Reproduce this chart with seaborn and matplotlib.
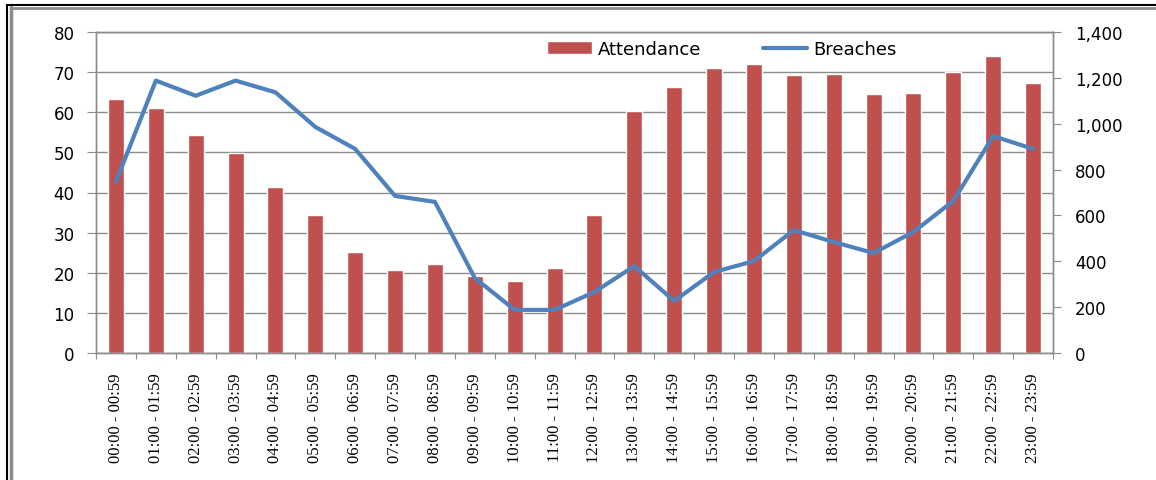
#!/usr/bin/python3

import numpy as np
import matplotlib.pyplot as plt
from matplotlib.lines import Line2D
from matplotlib.ticker import FuncFormatter, MultipleLocator
import seaborn as sns

hours = ["00:00 - 00:59", "01:00 - 01:59", "02:00 - 02:59", "03:00 - 03:59",
         "04:00 - 04:59", "05:00 - 05:59", "06:00 - 06:59", "07:00 - 07:59",
         "08:00 - 08:59", "09:00 - 09:59", "10:00 - 10:59", "11:00 - 11:59",
         "12:00 - 12:59", "13:00 - 13:59", "14:00 - 14:59", "15:00 - 15:59",
         "16:00 - 16:59", "17:00 - 17:59", "18:00 - 18:59", "19:00 - 19:59",
         "20:00 - 20:59", "21:00 - 21:59", "22:00 - 22:59", "23:00 - 23:59"]

attendance = [63.3, 61.1, 54.3, 49.8, 41.4, 34.4, 25.2, 20.7, 22.2, 19.2, 17.9, 21.2,
              34.4, 60.3, 66.3, 71.0, 72.0, 69.3, 69.5, 64.5, 64.8, 70.0, 74.0, 67.3]

breaches = [747, 1188, 1122, 1188, 1137, 986, 890, 685, 659, 327, 188, 188,
            266, 379, 227, 353, 401, 536, 484, 436, 528, 663, 946, 890]

BAR_COLOR = "#C0504D"
LINE_COLOR = "#4F81BD"
GRID_COLOR = "#8C8C8C"

sns.set_style("white")
plt.rcParams["font.family"] = ["DejaVu Sans"]
plt.rcParams["text.color"] = "black"
plt.rcParams["xtick.labelcolor"] = "black"
plt.rcParams["ytick.labelcolor"] = "black"

fig, ax = plt.subplots(figsize=(11.56, 4.81), dpi=100)
fig.subplots_adjust(left=96 / 1156, right=1053 / 1156, bottom=1 - 354 / 481, top=1 - 33 / 481)

sns.barplot(x=hours, y=attendance, color=BAR_COLOR, saturation=1, width=0.4,
            label="Attendance", ax=ax)
if ax.get_legend() is not None:
    ax.get_legend().remove()

ax2 = ax.twinx()
sns.lineplot(x=np.arange(len(hours)), y=breaches, color=LINE_COLOR, linewidth=3,
             label="Breaches", legend=False, ax=ax2)
if ax2.get_legend() is not None:
    ax2.get_legend().remove()

# left axis
ax.set_ylim(0, 80)
ax.yaxis.set_major_locator(MultipleLocator(10))
ax.set_axisbelow(True)
ax.yaxis.grid(True, color=GRID_COLOR, linewidth=1)
ax.tick_params(axis="y", labelsize=12, length=6.5, width=0.8, color=GRID_COLOR,
               labelcolor="black", pad=9, left=True)

# right axis
ax2.set_ylim(0, 1400)
ax2.yaxis.set_major_locator(MultipleLocator(200))
ax2.yaxis.set_major_formatter(FuncFormatter(lambda v, p: f"{v:,.0f}"))
ax2.tick_params(axis="y", labelsize=12, length=6, width=0.8, color=GRID_COLOR,
                labelcolor="black", pad=10)
ax2.grid(False)

# x axis: ticks between categories
ax.set_xlim(-0.5, len(hours) - 0.5)
ax.set_xlabel("")
ax.set_xticks(np.arange(len(hours)))
ax.set_xticklabels(hours, rotation=90, family="Liberation Serif", fontsize=12, color="black")
ax.set_xticks(np.arange(len(hours) + 1) - 0.5, minor=True)
ax.tick_params(axis="x", which="major", length=0, pad=14)
ax.tick_params(axis="x", which="minor", length=4, width=0.8, color=GRID_COLOR, bottom=True)

for a in (ax, ax2):
    for s in a.spines.values():
        s.set_color(GRID_COLOR)
        s.set_linewidth(1)

h1, l1 = ax.get_legend_handles_labels()
h2, l2 = ax2.get_legend_handles_labels()
fig.legend(h1 + h2, l1 + l2, loc="center", bbox_to_anchor=(722 / 1156, 1 - 50 / 481),
           ncol=2, frameon=False, fontsize=13, handlelength=2.45, handletextpad=0.35,
           columnspacing=3.4, labelcolor="black")

# outer frame of the screenshot
fig.add_artist(Line2D([7 / 1156, 7 / 1156], [0, 1 - 6 / 481], color="black", linewidth=1.5))
fig.add_artist(Line2D([10.5 / 1156, 10.5 / 1156], [0, 1 - 8 / 481], color="#8C8C8C", linewidth=2.5))
fig.add_artist(Line2D([7 / 1156, 1], [1 - 6 / 481, 1 - 6 / 481], color="black", linewidth=1.5))
fig.add_artist(Line2D([10.5 / 1156, 1], [1 - 8.5 / 481, 1 - 8.5 / 481], color="#8C8C8C", linewidth=2))

plt.savefig("out.png", dpi=100)
